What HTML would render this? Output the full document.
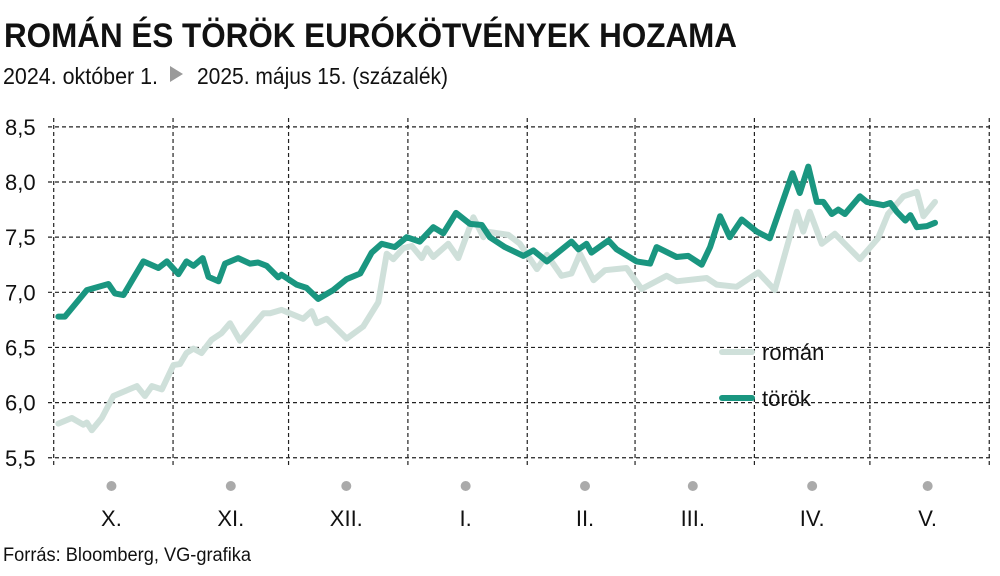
<!DOCTYPE html>
<html><head><meta charset="utf-8"><style>
html,body{margin:0;padding:0;background:#fff;}
svg{display:block;font-family:"Liberation Sans Narrow","Liberation Sans",sans-serif;}
</style></head><body>
<svg id="chart" width="1000" height="576" viewBox="0 0 1000 576">
<text x="4" y="47" font-size="34" font-weight="bold" fill="#111" textLength="733" lengthAdjust="spacingAndGlyphs">ROMÁN ÉS TÖRÖK EURÓKÖTVÉNYEK HOZAMA</text>
<g>
<text x="3" y="84" font-size="23" fill="#111" textLength="155" lengthAdjust="spacingAndGlyphs">2024. október 1.</text>
<polygon points="170,66 183,74 170,82" fill="#9a9a9a"/>
<text x="197" y="84" font-size="23" fill="#111" textLength="251" lengthAdjust="spacingAndGlyphs">2025. május 15. (százalék)</text>
</g>
<g id="grid"></g>
<g id="yticks"></g>
<g id="xticks"></g>
<g id="series"></g>
<g>
<line x1="722" y1="352" x2="752" y2="352" stroke="#cfe0da" stroke-width="6" stroke-linecap="round"/>
<text x="762" y="360" font-size="22" fill="#111">román</text>
<line x1="722" y1="398" x2="752" y2="398" stroke="#1a9680" stroke-width="6" stroke-linecap="round"/>
<text x="762" y="406" font-size="22" fill="#111">török</text>
</g>
<text x="3" y="561" font-size="19" fill="#111" textLength="248" lengthAdjust="spacingAndGlyphs">Forrás: Bloomberg, VG-grafika</text>
</svg>
<script>
const yTicks=[5.5,6.0,6.5,7.0,7.5,8.0,8.5];
const yTickLabels=["5,5","6,0","6,5","7,0","7,5","8,0","8,5"];
const monthStarts=[0,31,61,92,123,151,182,212,243];
const monthLabels=["X.","XI.","XII.","I.","II.","III.","IV.","V."];
const romanDays=[1.2,4.7,7.7,8.6,9.9,12.5,15.5,21.6,23.7,25.5,28.1,31.1,32.8,34.5,36.3,38.4,41.0,43.6,45.8,48.4,54.5,56.2,59.2,64.8,67.0,68.3,70.9,76.1,80.4,84.3,86.5,88.2,90.8,93.0,95.6,96.9,98.6,102.5,105.1,109.0,111.6,112.5,118.1,121.1,125.5,128.1,131.9,134.5,136.7,140.2,143.2,148.8,152.7,159.2,161.8,169.6,172.2,177.4,183.0,187.3,193.0,194.7,196.4,199.5,202.9,209.4,214.1,216.7,220.7,224.2,225.9,228.9];
const romanValues=[5.81,5.86,5.80,5.82,5.75,5.86,6.06,6.15,6.06,6.15,6.12,6.34,6.35,6.45,6.49,6.45,6.57,6.63,6.72,6.56,6.81,6.81,6.84,6.76,6.83,6.72,6.76,6.58,6.69,6.91,7.35,7.30,7.40,7.42,7.31,7.40,7.32,7.44,7.31,7.68,7.50,7.55,7.52,7.44,7.21,7.34,7.15,7.17,7.35,7.11,7.20,7.22,7.03,7.15,7.10,7.13,7.07,7.05,7.18,7.02,7.73,7.55,7.73,7.44,7.53,7.30,7.49,7.71,7.87,7.91,7.69,7.82];
const torokDays=[1.2,2.9,8.6,14.2,15.9,18.1,23.3,27.2,29.4,32.4,34.5,36.3,38.7,40.2,42.8,44.5,47.9,51.0,53.1,55.3,58.3,59.2,63.1,65.7,68.7,72.6,76.1,79.6,82.6,85.2,88.6,91.7,95.1,98.6,101.2,104.5,108.1,111.2,113.3,117.2,122.0,124.6,128.1,134.5,136.3,138.4,139.7,144.1,146.2,151.4,154.9,156.6,161.8,164.8,168.3,170.5,173.1,175.6,178.7,182.6,186.0,191.9,193.8,196.0,198.2,199.9,202.1,203.8,205.5,209.4,211.2,215.5,217.3,219.0,221.2,222.5,224.2,226.8,228.9];
const torokValues=[6.78,6.78,7.02,7.075,6.99,6.975,7.28,7.22,7.28,7.165,7.28,7.24,7.31,7.14,7.10,7.26,7.31,7.26,7.27,7.24,7.135,7.16,7.07,7.04,6.94,7.02,7.12,7.17,7.36,7.44,7.41,7.50,7.46,7.59,7.535,7.72,7.62,7.61,7.50,7.41,7.33,7.38,7.28,7.46,7.39,7.44,7.36,7.47,7.39,7.28,7.26,7.41,7.32,7.33,7.25,7.41,7.69,7.50,7.66,7.55,7.49,8.08,7.90,8.14,7.82,7.82,7.71,7.75,7.71,7.87,7.82,7.79,7.81,7.73,7.65,7.70,7.59,7.60,7.63];

const NS="http://www.w3.org/2000/svg";
const xs=d=>53.7+d*3.85;
const ys=v=>182+(8.0-v)*110.3;
function mk(tag,attrs,parent){const e=document.createElementNS(NS,tag);for(const k in attrs)e.setAttribute(k,attrs[k]);parent.appendChild(e);return e;}
const grid=document.getElementById('grid');
yTicks.forEach((t,i)=>{
  const l=mk('line',{x1:48,x2:993,y1:ys(t),y2:ys(t),stroke:'#222','stroke-width':1.2,'stroke-dasharray':'4,3'},grid);
  
  
  const tx=mk('text',{x:5,y:ys(t)+8,'font-size':22,fill:'#111'},document.getElementById('yticks'));
  tx.textContent=yTickLabels[i];
  
  
});
monthStarts.forEach(d=>{
  const l=mk('line',{x1:xs(d),x2:xs(d),y1:118,y2:466,stroke:'#222','stroke-width':1.2,'stroke-dasharray':'4,3'},grid);
  
  
});
const xt=document.getElementById('xticks');
monthLabels.forEach((m,i)=>{
  const cx=xs(monthStarts[i]+15);
  const c=mk('circle',{cx:cx,cy:486,r:5,fill:'#aaa'},xt);
  
  
  const t=mk('text',{x:cx,y:526,'font-size':22,fill:'#111','text-anchor':'middle'},xt);
  t.textContent=m;
  
  
});
const sg=document.getElementById('series');
function line(days,vals,color,name){
  const d=days.map((x,i)=>(i?'L':'M')+xs(x).toFixed(1)+','+ys(vals[i]).toFixed(1)).join(' ');
  const p=mk('path',{d:d,fill:'none',stroke:color,'stroke-width':6,'stroke-linejoin':'round','stroke-linecap':'round'},sg);
  
  
}
line(romanDays,romanValues,'#cfe0da','roman-line');
line(torokDays,torokValues,'#1a9680','torok-line');
</script>
</body></html>
